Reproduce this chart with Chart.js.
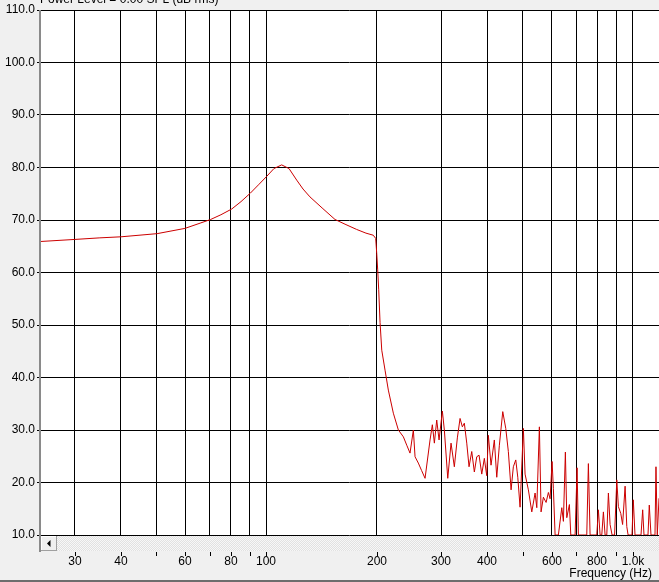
<!DOCTYPE html>
<html>
<head>
<meta charset="utf-8">
<script src="https://cdn.jsdelivr.net/npm/chart.js@4/dist/chart.umd.min.js"></script>
<style>
  html, body { margin: 0; padding: 0; background: #f0f0f0; overflow: hidden; }
  canvas { display: block; }
</style>
</head>
<body>
<canvas id="spl" width="659" height="582"></canvas>
<script>
// frequency response
const freqHz = [
  24.1, 30.0, 35.1, 40.1, 50.3, 59.9, 65.9, 70.4, 75.1, 80.4,
  85.2, 90.3, 95.1, 100.1, 104.8, 110.0, 115.2, 120.9, 125.8, 131.4,
  141.8, 153.8, 163.8, 176.2, 186.8, 195.6, 198.6, 199.9, 201.1, 202.4,
  204.1, 206.3, 210.6, 215.0, 221.9, 229.0, 236.3, 241.4, 246.4, 251.6,
  254.3, 259.6, 264.9, 270.8, 279.4, 283.5, 287.1, 291.4, 295.7, 301.9,
  305.7, 312.3, 318.8, 325.5, 331.7, 337.4, 342.3, 346.6, 351.9, 357.0,
  363.1, 369.1, 374.7, 380.2, 386.7, 393.0, 399.0, 403.0, 409.9, 418.5,
  424.9, 431.9, 441.2, 449.6, 457.0, 464.9, 471.6, 478.8, 484.9, 491.9,
  502.2, 507.6, 518.3, 529.5, 540.6, 546.4, 555.4, 561.3, 569.5, 579.3,
  587.7, 594.0, 601.5, 606.4, 613.0, 625.8, 639.3, 645.8, 653.9, 659.7,
  670.6, 676.5, 695.1, 703.8, 709.6, 748.0, 755.6, 763.7, 796.5, 804.6,
  813.2, 822.0, 830.3, 839.2, 848.2, 856.8, 866.0, 876.9, 890.8, 903.2,
  912.3, 926.2, 936.8, 951.6, 961.8, 969.7, 993.7, 1001.9, 1012.7, 1051.6,
  1062.8, 1071.5, 1098.8, 1107.8, 1119.7, 1148.2, 1155.4, 1164.9, 1177.5
];
const levelDb = [
  65.9, 66.3, 66.6, 66.8, 67.4, 68.4, 69.4, 70.1, 71.0, 72.1,
  73.5, 75.1, 76.7, 78.3, 79.8, 80.5, 79.8, 77.6, 75.9, 74.4,
  72.3, 70.1, 69.2, 68.2, 67.5, 67.1, 66.5, 63.6, 60.5, 56.7,
  50.5, 45.2, 41.4, 37.6, 33.2, 30.0, 28.7, 27.1, 25.6, 30.0,
  24.9, 23.7, 22.3, 20.8, 28.1, 31.0, 27.5, 31.9, 28.1, 33.6,
  30.0, 20.8, 27.5, 23.0, 28.5, 32.2, 30.6, 31.3, 27.5, 23.0,
  25.9, 22.0, 24.9, 25.2, 21.6, 24.6, 21.3, 29.0, 23.3, 28.1,
  21.0, 27.1, 33.5, 30.3, 25.9, 18.6, 23.0, 24.3, 21.0, 15.3,
  30.3, 21.6, 18.6, 14.4, 18.0, 15.2, 30.6, 14.4, 17.2, 16.2,
  18.1, 16.9, 24.0, 18.9, 10.0, 10.0, 15.2, 12.6, 25.8, 13.3,
  15.8, 10.0, 10.0, 22.8, 10.0, 10.0, 23.6, 10.0, 10.0, 14.8,
  10.0, 10.0, 14.4, 10.0, 10.0, 18.0, 12.0, 10.0, 10.0, 20.5,
  15.4, 14.1, 12.0, 19.3, 11.6, 10.0, 10.0, 16.7, 10.0, 10.0,
  14.8, 10.0, 10.0, 15.7, 10.0, 10.0, 23.0, 10.0, 17.0
];

const xMin = 24.1;
const xMax = 1177.5;
const xTickValues = [30, 40, 50, 60, 70, 80, 90, 100, 200, 300, 400, 500, 600, 700, 800, 900, 1000];
const xTickLabels = ['30', '40', '', '60', '', '80', '', '100', '200', '300', '400', '', '600', '', '800', '', '1.0k'];
const yTickValues = [10, 20, 30, 40, 50, 60, 70, 80, 90, 100, 110];

const titleText = 'Power Level = 0.00 SPL (dB rms)';
const xAxisTitle = 'Frequency (Hz)';

const FONT = "'Liberation Sans', Arial, sans-serif";

// checker pattern for the scrollbar track
function trackPattern(ctx) {
  const c = document.createElement('canvas');
  c.width = 2; c.height = 2;
  const p = c.getContext('2d');
  p.fillStyle = '#f7f7f7'; p.fillRect(0, 0, 2, 2);
  p.fillStyle = '#e1e1e1'; p.fillRect(1, 0, 1, 1); p.fillRect(0, 1, 1, 1);
  return ctx.createPattern(c, 'repeat');
}

const framePlugin = {
  id: 'frame',
  beforeDraw(chart) {
    const { ctx, chartArea: a, width, height } = chart;
    ctx.save();
    ctx.fillStyle = '#f0f0f0';
    ctx.fillRect(0, 0, width, height);
    ctx.fillStyle = '#ffffff';
    ctx.fillRect(a.left, a.top, a.right - a.left, a.bottom - a.top);
    // scrollbar track
    ctx.fillStyle = trackPattern(ctx);
    ctx.fillRect(a.left, a.bottom + 1, width - a.left, 15);
    ctx.restore();
  },
  afterDraw(chart) {
    const { ctx, chartArea: a, width } = chart;
    const xs = chart.scales.x;
    ctx.save();

    // scroll button
    const bx = a.left + 1, by = a.bottom + 1;
    ctx.fillStyle = '#f0f0f0';
    ctx.fillRect(bx, by, 16, 15);
    ctx.fillStyle = '#ffffff';
    ctx.fillRect(bx, by, 16, 1);
    ctx.fillRect(bx, by, 1, 15);
    ctx.fillStyle = '#a0a0a0';
    ctx.fillRect(bx, by + 14, 16, 1);
    ctx.fillRect(bx + 15, by, 1, 15);
    ctx.fillStyle = '#000';
    ctx.beginPath();
    ctx.moveTo(bx + 6, by + 7.5);
    ctx.lineTo(bx + 9.5, by + 4);
    ctx.lineTo(bx + 9.5, by + 11);
    ctx.closePath();
    ctx.fill();

    // left frame edge
    ctx.fillStyle = '#8a8a8a';
    ctx.fillRect(a.left - 1, a.top, 2, a.bottom - a.top + 17);

    // x tick marks + labels under the scrollbar
    ctx.fillStyle = '#000';
    ctx.font = '12px ' + FONT;
    ctx.textAlign = 'center';
    ctx.textBaseline = 'middle';
    xTickValues.forEach((v, i) => {
      const px = Math.round(xs.getPixelForValue(v));
      ctx.fillRect(px, a.bottom + 17, 1, 4);
      if (xTickLabels[i]) ctx.fillText(xTickLabels[i], px, a.bottom + 27);
    });

    // axis title
    ctx.textAlign = 'right';
    ctx.fillText(xAxisTitle, 652, a.bottom + 39);

    // clipped chart title at the top
    ctx.textAlign = 'left';
    ctx.textBaseline = 'alphabetic';
    ctx.fillText(titleText, a.left, 3);

    // bottom window edge
    ctx.fillStyle = '#6d6d6d';
    ctx.fillRect(0, 580, width, 2);
    ctx.restore();
  }
};

new Chart(document.getElementById('spl'), {
  type: 'line',
  data: {
    datasets: [{
      data: freqHz.map((f, i) => ({ x: f, y: levelDb[i] })),
      borderColor: '#cc0000',
      borderWidth: 1,
      pointRadius: 0,
      tension: 0,
      fill: false
    }]
  },
  options: {
    responsive: false,
    animation: false,
    devicePixelRatio: 1,
    layout: { padding: { top: 10, left: 0, right: 0, bottom: 0 } },
    plugins: {
      legend: { display: false },
      tooltip: { enabled: false },
      title: { display: false }
    },
    scales: {
      x: {
        type: 'logarithmic',
        min: xMin,
        max: xMax,
        afterBuildTicks: scale => { scale.ticks = xTickValues.map(v => ({ value: v })); },
        afterFit: scale => { scale.height = 47; },
        ticks: { display: false },
        grid: { color: '#000', lineWidth: 1, drawTicks: false },
        border: { display: false }
      },
      y: {
        min: 10,
        max: 110,
        afterBuildTicks: scale => { scale.ticks = yTickValues.map(v => ({ value: v })); },
        afterFit: scale => { scale.width = 40; },
        ticks: {
          callback: v => Number(v).toFixed(1),
          color: '#000',
          padding: 2,
          font: { family: FONT, size: 12 }
        },
        grid: { color: '#000', lineWidth: 1, tickLength: 3 },
        border: { display: false }
      }
    }
  },
  plugins: [framePlugin]
});
</script>
</body>
</html>
